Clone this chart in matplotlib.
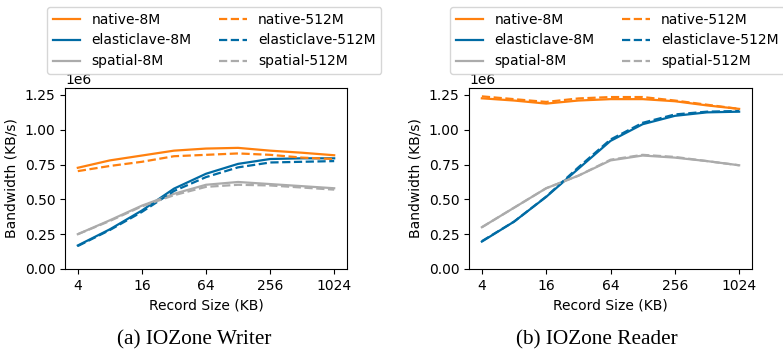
#!/usr/bin/env python3
"""IOZone writer / reader bandwidth vs record size."""
import matplotlib
matplotlib.use("Agg")
import matplotlib.pyplot as plt
from matplotlib.ticker import FixedLocator, FixedFormatter, NullLocator

record_kb = [4, 8, 16, 32, 64, 128, 256, 512, 1024]
xtick_vals = [4, 16, 64, 256, 1024]
xtick_labels = ["4", "16", "64", "256", "1024"]

# IOZone Writer (KB/s)
writer_native_8m = [0.727e6, 0.78e6, 0.815e6, 0.85e6, 0.865e6, 0.87e6, 0.85e6, 0.835e6, 0.817e6]
writer_native_512m = [0.703e6, 0.74e6, 0.77e6, 0.81e6, 0.82e6, 0.83e6, 0.82e6, 0.80e6, 0.79e6]
writer_elastic_8m = [0.169e6, 0.285e6, 0.42e6, 0.577e6, 0.684e6, 0.755e6, 0.79e6, 0.795e6, 0.795e6]
writer_elastic_512m = [0.165e6, 0.28e6, 0.41e6, 0.56e6, 0.66e6, 0.73e6, 0.765e6, 0.77e6, 0.775e6]
writer_spatial_8m = [0.25e6, 0.35e6, 0.455e6, 0.54e6, 0.605e6, 0.625e6, 0.61e6, 0.595e6, 0.58e6]
writer_spatial_512m = [0.25e6, 0.345e6, 0.45e6, 0.53e6, 0.59e6, 0.605e6, 0.60e6, 0.585e6, 0.57e6]

# IOZone Reader (KB/s)
reader_native_8m = [1.226e6, 1.21e6, 1.188e6, 1.21e6, 1.22e6, 1.22e6, 1.205e6, 1.175e6, 1.15e6]
reader_native_512m = [1.24e6, 1.22e6, 1.20e6, 1.225e6, 1.235e6, 1.235e6, 1.21e6, 1.18e6, 1.15e6]
reader_elastic_8m = [0.197e6, 0.34e6, 0.518e6, 0.72e6, 0.92e6, 1.04e6, 1.10e6, 1.125e6, 1.13e6]
reader_elastic_512m = [0.20e6, 0.34e6, 0.52e6, 0.73e6, 0.93e6, 1.05e6, 1.11e6, 1.13e6, 1.135e6]
reader_spatial_8m = [0.30e6, 0.44e6, 0.58e6, 0.67e6, 0.78e6, 0.815e6, 0.80e6, 0.775e6, 0.745e6]
reader_spatial_512m = [0.30e6, 0.44e6, 0.58e6, 0.67e6, 0.785e6, 0.82e6, 0.805e6, 0.775e6, 0.745e6]

names = ["native", "elasticlave", "spatial"]
colors = {"native": "#FF800E", "elasticlave": "#006BA4", "spatial": "#ABABAB"}

panels = [
    ("(a) IOZone Writer",
     {"native": (writer_native_8m, writer_native_512m),
      "elasticlave": (writer_elastic_8m, writer_elastic_512m),
      "spatial": (writer_spatial_8m, writer_spatial_512m)}),
    ("(b) IOZone Reader",
     {"native": (reader_native_8m, reader_native_512m),
      "elasticlave": (reader_elastic_8m, reader_elastic_512m),
      "spatial": (reader_spatial_8m, reader_spatial_512m)}),
]

W, H = 783, 354
plt.rcParams["font.family"] = "DejaVu Sans"
fig = plt.figure(figsize=(W / 100, H / 100), dpi=100)

# axes boxes in pixels: left, right, top, bottom
boxes = [(65, 347, 88, 269), (469, 752, 88, 269)]
legend_x = [47, 450]
caption_x = [194, 597]

for i, (caption, series) in enumerate(panels):
    l, r, t, b = boxes[i]
    ax = fig.add_axes([l / W, 1 - b / H, (r - l) / W, (b - t) / H])
    handles = []
    for name in names:
        y8, y512 = series[name]
        h1, = ax.plot(record_kb, y8, color=colors[name], lw=1.6, label=f"{name}-8M")
        handles.append(h1)
    for name in names:
        y8, y512 = series[name]
        h2, = ax.plot(record_kb, y512, color=colors[name], lw=1.6, ls="--", label=f"{name}-512M")
        handles.append(h2)

    ax.set_xscale("log", base=2)
    ax.xaxis.set_major_locator(FixedLocator(xtick_vals))
    ax.xaxis.set_major_formatter(FixedFormatter(xtick_labels))
    ax.xaxis.set_minor_locator(NullLocator())
    ax.set_ylim(0, 1.3e6)
    ax.set_yticks([0, 0.25e6, 0.5e6, 0.75e6, 1.0e6, 1.25e6])
    ax.tick_params(labelsize=10)
    ax.yaxis.get_offset_text().set_fontsize(10)
    ax.set_xlabel("Record Size (KB)", fontsize=10)
    ax.set_ylabel("Bandwidth (KB/s)", fontsize=10)

    fig.legend(handles=handles, ncol=2, loc="upper left",
               bbox_to_anchor=(legend_x[i] / W, 1 - 7 / H),
               bbox_transform=fig.transFigure, fontsize=10,
               borderaxespad=0.0, fancybox=True, framealpha=0.8)

    fig.text(caption_x[i] / W, 1 - 340 / H, caption, ha="center", va="center",
             family="Liberation Serif", fontsize=15.3)

fig.savefig("out.png", dpi=100)
